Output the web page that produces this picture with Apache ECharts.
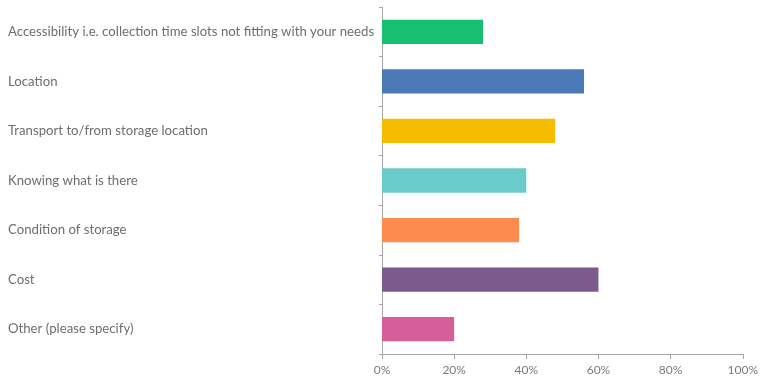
<!DOCTYPE html>
<html>
<head>
<meta charset="utf-8">
<script src="https://cdn.jsdelivr.net/npm/echarts@6/dist/echarts.min.js"></script>
<style>
  html, body { margin: 0; padding: 0; background: #ffffff; }
  #chart { width: 761px; height: 378px; }
</style>
</head>
<body>
<div id="chart"></div>
<script>
// Survey answers, listed top to bottom
const categories = [
  'Accessibility i.e. collection time slots not fitting with your needs',
  'Location',
  'Transport to/from storage location',
  'Knowing what is there',
  'Condition of storage',
  'Cost',
  'Other (please specify)'
];
// Share of respondents (%)
const values = [28, 56, 48, 40, 38, 60, 20];
const barColors = ['#17c070', '#4b79b8', '#f6bc00', '#6bcbcb', '#fd8b4f', '#7c5a8e', '#d65e99'];
const xTicks = [0, 20, 40, 60, 80, 100];

const chart = echarts.init(document.getElementById('chart'));
chart.setOption({
  animation: false,
  backgroundColor: '#ffffff',
  textStyle: { fontFamily: 'Lato, "Open Sans", sans-serif' },
  grid: { left: 382, right: 15, top: 7, bottom: 24, containLabel: false },
  xAxis: {
    type: 'value',
    min: xTicks[0],
    max: xTicks[xTicks.length - 1],
    interval: xTicks[1] - xTicks[0],
    splitLine: { show: false },
    axisLine: { show: true, lineStyle: { color: '#a6a6a6', width: 1 } },
    axisTick: { show: true, length: 5, lineStyle: { color: '#a6a6a6' } },
    axisLabel: { formatter: '{value}%', color: '#7a7a7a', fontSize: 12, margin: 10 }
  },
  yAxis: {
    type: 'category',
    data: categories,
    inverse: true,
    axisLine: { show: true, lineStyle: { color: '#a6a6a6', width: 1 } },
    axisTick: { show: true, length: 3, alignWithLabel: false, lineStyle: { color: '#a6a6a6' } },
    axisLabel: { align: 'left', margin: 374, color: '#6e6e6e', fontSize: 13.2, padding: [6, 0, 0, 0] }
  },
  series: [{
    type: 'bar',
    data: values.map((v, i) => ({ value: v, itemStyle: { color: barColors[i] } })),
    barWidth: '49%'
  }]
});
</script>
</body>
</html>
